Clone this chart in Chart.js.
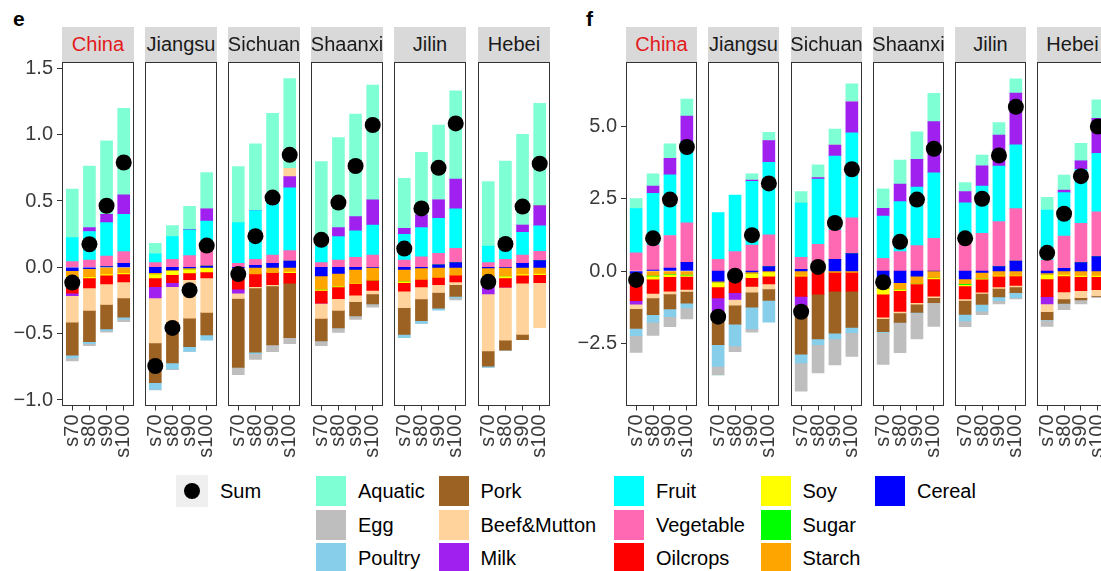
<!DOCTYPE html>
<html>
<head>
<meta charset="utf-8">
<script src="https://cdn.jsdelivr.net/npm/chart.js@4.4.1/dist/chart.umd.min.js"></script>
<style>
  html, body { margin: 0; padding: 0; background: #fff; overflow: hidden; width: 1101px; height: 571px; }
  body { position: relative; font-family: "Liberation Sans", Arial, sans-serif; }
  canvas { position: absolute; }
  .strip { position: absolute; background: #d9d9d9; color: #1a1a1a; font-size: 20px;
           display: flex; align-items: center; justify-content: center; white-space: nowrap; }
  .tag { position: absolute; font-weight: bold; font-size: 21px; line-height: 21px; color: #000; }
  .key { position: absolute; width: 30px; height: 30px; }
  .lab { position: absolute; font-size: 20px; line-height: 30px; color: #000; white-space: nowrap; }
  .sumkey { position: absolute; width: 32px; height: 32px; background: #efefef; }
  .sumkey div { position: absolute; left: 8px; top: 8px; width: 16px; height: 16px; border-radius: 50%; background: #000; }
</style>
</head>
<body>
<script>
// ---- categories ----
const regions = ['China', 'Jiangsu', 'Sichuan', 'Shaanxi', 'Jilin', 'Hebei'];
const periods = ['s70', 's80', 's90', 's100'];
const foods = ['Aquatic', 'Egg', 'Poultry', 'Pork', 'Beef&Mutton', 'Milk',
               'Fruit', 'Vegetable', 'Oilcrops', 'Soy', 'Sugar', 'Starch', 'Cereal'];
const foodColors = ['#7FFFD4', '#BEBEBE', '#87CEEB', '#9C6224', '#FFD39B', '#A020F0',
                    '#00FFFF', '#FF69B4', '#FF0000', '#FFFF00', '#00FF00', '#FFA500', '#0000FF'];

// ---- panel e: one row per region, one value per period ----
const eAquatic = [
  [0.366, 0.464, 0.553, 0.653], [0.080, 0.083, 0.173, 0.274], [0.422, 0.503, 0.636, 0.676],
  [0.636, 0.679, 0.774, 0.865], [0.377, 0.472, 0.565, 0.664], [0.485, 0.641, 0.684, 0.772]];
const eEgg = [
  [-0.022, -0.015, -0.012, -0.018], [-0.005, -0.005, 0, 0], [-0.055, -0.045, -0.050, -0.045],
  [-0.035, -0.033, -0.025, -0.025], [0, 0, 0, -0.015], [0, 0, 0, 0]];
const ePoultry = [
  [-0.020, -0.015, -0.012, -0.015], [-0.050, -0.045, -0.035, -0.040], [0, -0.010, 0, 0],
  [0, 0, 0, 0], [-0.025, -0.020, -0.015, -0.010], [-0.010, 0, 0, 0]];
const ePork = [
  [-0.250, -0.235, -0.185, -0.146], [-0.300, -0.226, -0.215, -0.170], [-0.520, -0.485, -0.445, -0.410],
  [-0.170, -0.133, -0.108, -0.075], [-0.200, -0.165, -0.118, -0.090], [-0.115, -0.075, -0.040, 0]];
const eBeefMutton = [
  [-0.200, -0.170, -0.155, -0.120], [-0.340, -0.350, -0.290, -0.260], [-0.040, -0.010, -0.010, 0.063],
  [-0.115, -0.088, -0.050, -0.025], [-0.125, -0.090, -0.060, -0.020], [-0.430, -0.400, -0.385, -0.340]];
const eMilk = [
  [-0.018, 0.030, 0.063, 0.146], [-0.085, -0.030, 0.005, 0.091], [-0.030, 0, 0, 0.084],
  [0, 0.068, 0.106, 0.189], [0.045, 0.096, 0.138, 0.226], [-0.055, 0, 0.055, 0.151]];
const eFruit = [
  [0.181, 0.215, 0.252, 0.282], [0.065, 0.171, 0.194, 0.159], [0.307, 0.367, 0.432, 0.474],
  [0.126, 0.176, 0.201, 0.226], [0.194, 0.219, 0.264, 0.297], [0.126, 0.100, 0.171, 0.193]];
const eVegetable = [
  [0.043, 0.055, 0.080, 0.088], [0.036, 0.060, 0.088, 0.180], [0.030, 0.045, 0.063, 0.078],
  [0.035, 0.055, 0.075, 0.093], [0.055, 0.080, 0.088, 0.108], [0.035, 0.060, 0.063, 0.070]];
const eOilcrops = [
  [-0.125, -0.075, -0.065, -0.060], [-0.065, -0.060, -0.050, -0.045], [-0.140, -0.095, -0.090, -0.080],
  [-0.095, -0.088, -0.088, -0.080], [-0.065, -0.058, -0.055, -0.050], [-0.070, -0.070, -0.060, -0.060]];
const eSoy = [
  [-0.005, -0.010, -0.010, -0.010], [-0.030, -0.030, -0.030, -0.035], [0, 0, 0, -0.010],
  [-0.010, -0.008, -0.006, 0], [-0.010, -0.005, -0.005, 0], [-0.010, -0.015, -0.010, -0.010]];
const eSugar = [
  [0, 0, 0, 0], [0, 0, 0, 0], [0, 0, 0, 0], [0, 0, 0, 0], [0, 0, 0, 0], [0, 0, 0, 0]];
const eStarch = [
  [-0.040, -0.060, -0.050, -0.040], [-0.010, -0.005, -0.008, 0], [-0.020, -0.050, -0.040, -0.030],
  [-0.100, -0.095, -0.100, -0.095], [-0.090, -0.080, -0.070, -0.060], [-0.060, -0.065, -0.050, -0.045]];
const eCereal = [
  [-0.025, -0.010, 0.005, 0.030], [-0.040, -0.020, -0.005, 0.010], [-0.005, 0.015, 0.030, 0.048],
  [-0.065, -0.045, -0.015, 0], [-0.015, -0.005, 0.018, 0.035], [-0.005, 0, 0.030, 0.050]];
const eSum = [
  [-0.115, 0.174, 0.464, 0.790], [-0.744, -0.457, -0.173, 0.164], [-0.051, 0.235, 0.526, 0.848],
  [0.207, 0.488, 0.764, 1.073], [0.141, 0.444, 0.750, 1.085], [-0.109, 0.176, 0.458, 0.781]];
const eTicks = [-1.0, -0.5, 0.0, 0.5, 1.0, 1.5];

// ---- panel f ----
const fAquatic = [
  [0.35, 0.42, 0.50, 0.59], [0, 0, 0.21, 0.29], [0.39, 0.44, 0.55, 0.63],
  [0.67, 0.83, 0.96, 0.98], [0.31, 0.37, 0.44, 0.49], [0.44, 0.52, 0.61, 0.64]];
const fEgg = [
  [-0.58, -0.46, -0.35, -0.38], [-0.30, -0.20, -0.12, 0], [-0.98, -0.98, -0.90, -0.83],
  [-1.10, -1.05, -0.90, -0.82], [-0.20, -0.12, -0.11, -0.05], [-0.22, -0.20, -0.14, -0.04]];
const fPoultry = [
  [-0.25, -0.26, -0.27, -0.17], [-0.75, -0.75, -0.75, -0.75], [-0.30, -0.20, -0.20, -0.18],
  [-0.03, 0, -0.02, 0], [-0.23, -0.23, -0.13, -0.17], [-0.02, -0.02, 0, 0]];
const fPork = [
  [-0.69, -0.58, -0.52, -0.40], [-0.96, -0.66, -0.52, -0.40], [-1.70, -1.55, -1.45, -1.25],
  [-0.45, -0.33, -0.28, -0.18], [-0.48, -0.38, -0.30, -0.20], [-0.27, -0.15, -0.08, -0.03]];
const fBeefMutton = [
  [-0.15, -0.15, -0.09, -0.07], [-0.08, -0.20, -0.20, -0.17], [0, 0, 0, 0],
  [-0.05, -0.05, -0.05, -0.05], [-0.05, -0.05, -0.05, -0.05], [-0.27, -0.25, -0.24, -0.20]];
const fMilk = [
  [-0.12, 0.25, 0.57, 0.88], [-0.58, -0.23, 0.05, 0.75], [-0.30, 0.05, 0.38, 1.07],
  [0.27, 0.61, 0.96, 1.77], [0.39, 0.70, 1.07, 1.79], [-0.25, 0.09, 0.29, 1.21]];
const fFruit = [
  [1.53, 1.79, 2.10, 2.81], [1.62, 1.96, 2.20, 2.51], [1.89, 2.26, 2.56, 2.94],
  [1.46, 1.73, 2.02, 2.27], [1.29, 1.64, 1.92, 2.21], [1.73, 1.50, 1.87, 2.02]];
const fVegetable = [
  [0.63, 0.87, 1.13, 1.37], [0.40, 0.67, 0.90, 1.10], [0.41, 0.87, 1.02, 1.24],
  [0.44, 0.67, 0.88, 1.13], [1.07, 1.30, 1.56, 1.82], [0.38, 1.12, 1.36, 1.55]];
const fOilcrops = [
  [-0.81, -0.50, -0.50, -0.45], [-0.38, -0.45, -0.30, -0.27], [-0.70, -0.75, -0.65, -0.65],
  [-0.80, -0.72, -0.65, -0.60], [-0.45, -0.45, -0.37, -0.33], [-0.62, -0.55, -0.48, -0.45]];
const fSoy = [
  [-0.05, -0.10, -0.08, -0.05], [-0.16, -0.10, -0.15, -0.15], [-0.03, 0, 0, 0],
  [-0.20, -0.05, -0.02, -0.05], [-0.05, -0.03, -0.03, -0.02], [-0.15, -0.05, -0.05, -0.05]];
const fSugar = [
  [-0.02, -0.03, -0.02, -0.02], [0, -0.03, 0, 0], [0, 0, 0, 0],
  [0, 0, 0, 0], [-0.03, 0, 0, 0], [0, 0, 0, 0]];
const fStarch = [
  [-0.07, -0.15, -0.10, -0.12], [-0.04, -0.12, -0.05, -0.03], [-0.15, -0.05, -0.05, -0.05],
  [-0.35, -0.23, -0.25, -0.22], [-0.17, -0.20, -0.15, -0.15], [-0.05, -0.12, -0.15, -0.15]];
const fCereal = [
  [-0.08, 0.03, 0.10, 0.30], [-0.35, -0.05, -0.03, 0.15], [0.06, 0.05, 0.40, 0.60],
  [-0.25, -0.40, -0.18, 0], [-0.27, -0.05, 0.15, 0.34], [-0.07, 0.09, 0.29, 0.50]];
const fSum = [
  [-0.31, 1.13, 2.47, 4.29], [-1.58, -0.16, 1.24, 3.03], [-1.41, 0.14, 1.66, 3.52],
  [-0.39, 1.01, 2.47, 4.23], [1.13, 2.50, 4.00, 5.68], [0.63, 1.98, 3.28, 5.00]];
const fTicks = [-2.5, 0.0, 2.5, 5.0];

// series lists follow the order of `foods`
const eSeries = [eAquatic, eEgg, ePoultry, ePork, eBeefMutton, eMilk, eFruit, eVegetable,
                 eOilcrops, eSoy, eSugar, eStarch, eCereal];
const fSeries = [fAquatic, fEgg, fPoultry, fPork, fBeefMutton, fMilk, fFruit, fVegetable,
                 fOilcrops, fSoy, fSugar, fStarch, fCereal];

// ---- layout of the two facet groups ----
const PLOT_TOP = 62, PLOT_BOTTOM = 405.5, STRIP_TOP = 27;
const CANVAS_TOP = 30;      // canvases start above the plot so top tick labels have room
const AXIS_W = 62;          // room for the y tick labels of the first facet
const X_AXIS_H = 64.5;      // room for the rotated period labels
const groups = [
  { tag: 'e', tagX: 13, series: eSeries, sum: eSum, ticks: eTicks, yMin: -1.0415, yMax: 1.5477,
    lefts: [62, 145, 228, 311, 394, 478], width: 72 },
  { tag: 'f', tagX: 586, series: fSeries, sum: fSum, ticks: fTicks, yMin: -4.654, yMax: 7.232,
    lefts: [626, 708, 791, 873, 955, 1037], width: 71 }
];

Chart.defaults.font.family = '"Liberation Sans", Arial, sans-serif';
Chart.defaults.font.size = 20;
Chart.defaults.color = '#333';

// outline drawn around every facet's plotting area
const panelBorder = {
  id: 'panelBorder',
  afterDatasetsDraw(chart) {
    const { ctx, chartArea: a } = chart;
    ctx.save();
    ctx.strokeStyle = '#333';
    ctx.lineWidth = 1;
    ctx.strokeRect(Math.round(a.left) + 0.5, Math.round(a.top) + 0.5,
                   Math.round(a.right - a.left) - 1, Math.round(a.bottom - a.top) - 1);
    ctx.restore();
  }
};

const fmt = v => v.toFixed(1).replace('-', '\u2212');

function addFacet(group, r) {
  const first = r === 0;
  const left = group.lefts[r];
  const padL = first ? 0 : 1;
  const cw = (first ? AXIS_W : 1) + group.width + 1;
  const ch = Math.round(PLOT_BOTTOM + X_AXIS_H) - CANVAS_TOP;

  const canvas = document.createElement('canvas');
  canvas.width = cw;
  canvas.height = ch;
  canvas.style.left = (left - (first ? AXIS_W : 1)) + 'px';
  canvas.style.top = CANVAS_TOP + 'px';
  canvas.style.width = cw + 'px';
  canvas.style.height = ch + 'px';
  document.body.appendChild(canvas);

  // stacking starts at zero with Cereal and ends with Aquatic
  const datasets = foods.map((name, k) => ({
    type: 'bar',
    label: name,
    data: periods.map((p, i) => ({ x: i + 1, y: group.series[k][r][i] })),
    backgroundColor: foodColors[k],
    borderWidth: 0,
    barThickness: 12,
    order: 1
  })).reverse();
  datasets.push({
    type: 'scatter',
    label: 'Sum',
    stack: 'sum',
    data: periods.map((p, i) => ({ x: i + 1, y: group.sum[r][i] })),
    backgroundColor: '#000',
    borderWidth: 0,
    pointRadius: 8,
    pointHoverRadius: 8,
    clip: false,
    order: 0
  });

  new Chart(canvas, {
    type: 'bar',
    data: { datasets },
    options: {
      responsive: false,
      animation: false,
      devicePixelRatio: 1,
      events: [],
      layout: { autoPadding: false, padding: { top: PLOT_TOP - CANVAS_TOP, bottom: 0, left: padL, right: 1 } },
      plugins: { legend: { display: false }, tooltip: { enabled: false } },
      scales: {
        x: {
          type: 'linear', stacked: true, min: 0.4, max: 4.6, offset: false,
          afterBuildTicks: a => { a.ticks = periods.map((p, i) => ({ value: i + 1 })); },
          afterFit: a => { a.height = X_AXIS_H; a.paddingLeft = 0; a.paddingRight = 0; },
          ticks: { autoSkip: false, minRotation: 90, maxRotation: 90, padding: 4,
                   color: '#3a3a3a', font: { size: 20 }, callback: v => periods[v - 1] },
          grid: { drawOnChartArea: false, drawTicks: true, tickLength: 5, color: '#333', offset: false },
          border: { display: false }
        },
        y: {
          type: 'linear', stacked: true, min: group.yMin, max: group.yMax, display: first,
          afterBuildTicks: a => { a.ticks = group.ticks.map(v => ({ value: v })); },
          afterFit: a => { a.width = first ? AXIS_W : 0; a.paddingTop = 0; a.paddingBottom = 0; },
          ticks: { padding: 4, color: '#3a3a3a', font: { size: 20 }, callback: v => fmt(v) },
          grid: { drawOnChartArea: false, drawTicks: true, tickLength: 5, color: '#333' },
          border: { display: false }
        }
      }
    },
    plugins: [panelBorder]
  });

  // facet strip
  const strip = document.createElement('div');
  strip.className = 'strip';
  strip.style.left = left + 'px';
  strip.style.top = STRIP_TOP + 'px';
  strip.style.width = group.width + 'px';
  strip.style.height = (PLOT_TOP - STRIP_TOP) + 'px';
  strip.textContent = regions[r];
  if (regions[r] === 'China') strip.style.color = '#E31A1C';
  document.body.appendChild(strip);
}

groups.forEach(g => {
  const tag = document.createElement('div');
  tag.className = 'tag';
  tag.style.left = g.tagX + 'px';
  tag.style.top = '8px';
  tag.textContent = g.tag;
  document.body.appendChild(tag);
  regions.forEach((name, r) => addFacet(g, r));
});

// ---- legend: "Sum" point key, then the fill keys in columns of three ----
const legendCols = [316, 438.5, 614, 760.5, 875];
const legendRows = [476, 509.5, 543];

const sumKey = document.createElement('div');
sumKey.className = 'sumkey';
sumKey.style.left = '176px';
sumKey.style.top = '475px';
sumKey.appendChild(document.createElement('div'));
document.body.appendChild(sumKey);
const sumLab = document.createElement('div');
sumLab.className = 'lab';
sumLab.style.left = '220px';
sumLab.style.top = '476px';
sumLab.textContent = 'Sum';
document.body.appendChild(sumLab);

foods.forEach((name, k) => {
  const col = Math.floor(k / 3), row = k % 3;
  const key = document.createElement('div');
  key.className = 'key';
  key.style.left = legendCols[col] + 'px';
  key.style.top = legendRows[row] + 'px';
  key.style.background = foodColors[k];
  document.body.appendChild(key);
  const lab = document.createElement('div');
  lab.className = 'lab';
  lab.style.left = (legendCols[col] + 42) + 'px';
  lab.style.top = legendRows[row] + 'px';
  lab.textContent = name;
  document.body.appendChild(lab);
});
</script>
</body>
</html>
